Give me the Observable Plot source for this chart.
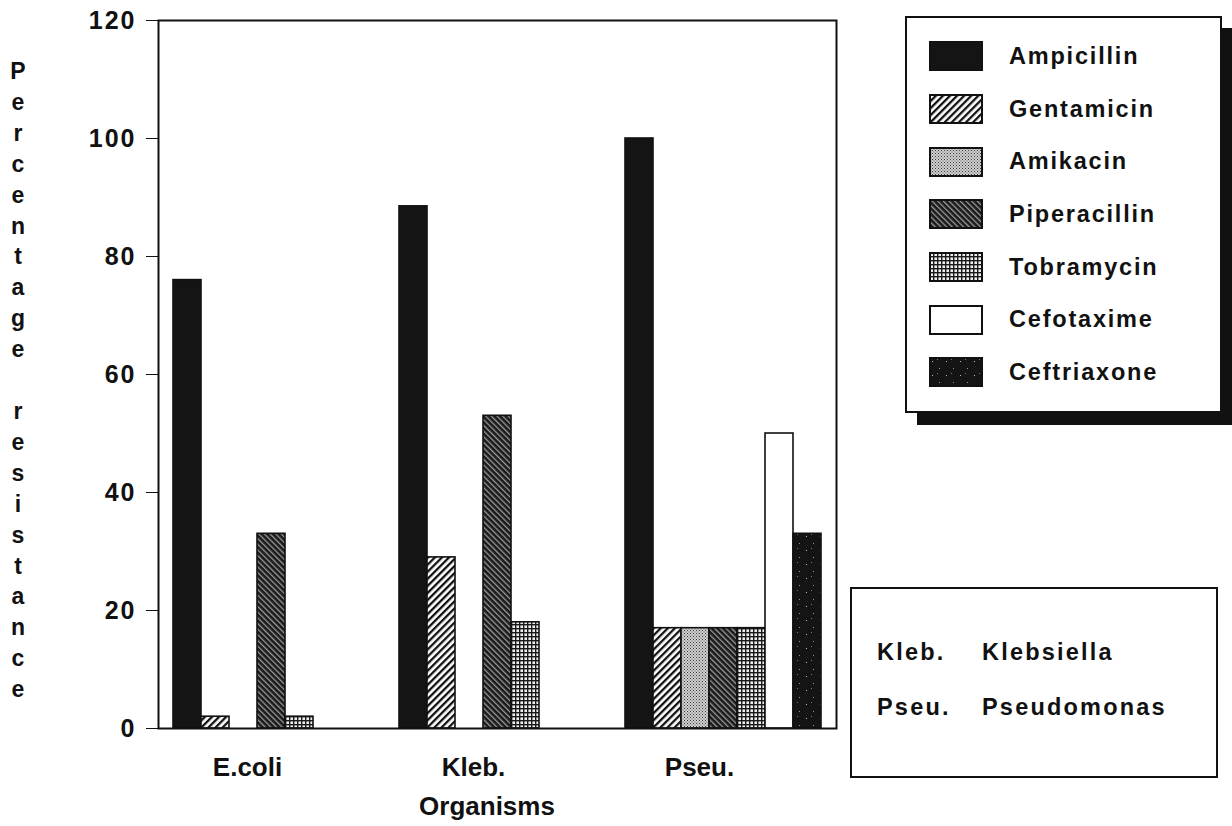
<!DOCTYPE html>
<html>
<head>
<meta charset="utf-8">
<script src="https://cdn.jsdelivr.net/npm/d3@7"></script>
<script src="https://cdn.jsdelivr.net/npm/@observablehq/plot@0.6"></script>
<style>
  html, body { margin: 0; padding: 0; background: #fff; }
  body { width: 1232px; height: 826px; position: relative; overflow: hidden;
         font-family: "Liberation Sans", Arial, sans-serif; color: #111; }
  #chart { position: absolute; left: 0; top: 0; }
  .ylabel { position: absolute; left: 4px; top: 56px; width: 28px; text-align: center;
            font-weight: bold; font-size: 23px; line-height: 30.9px; white-space: pre; }
  .xlabel { position: absolute; left: 337px; width: 300px; top: 791px; text-align: center;
            font-weight: bold; font-size: 26px; line-height: 30px; }
  .legend { position: absolute; left: 905px; top: 16px; width: 317px; height: 397px;
            box-sizing: border-box; border: 2px solid #111; background: #fff;
            box-shadow: 12px 12px 0 #111; padding-top: 12px; }
  .row { height: 52.7px; display: flex; align-items: center; padding-left: 22px; }
  .row svg { display: block; }
  .row span { margin-left: 26px; font-weight: bold; font-size: 23.5px; letter-spacing: 1.8px; }
  .abbr { position: absolute; left: 850px; top: 587px; width: 368px; height: 191px;
          box-sizing: border-box; border: 2px solid #111; background: #fff; }
  .abbr div { position: absolute; left: 25px; font-weight: bold; font-size: 23.5px; letter-spacing: 2.2px; }
  .abbr b { display: inline-block; width: 105px; }
  svg text { fill: #111; }
  g[aria-label="y-axis tick label"] text { letter-spacing: 2px; }
</style>
</head>
<body>
<svg width="0" height="0" style="position:absolute">
  <defs>
    <pattern id="pGent" patternUnits="userSpaceOnUse" width="5" height="5" patternTransform="rotate(45)">
      <rect width="5" height="5" fill="#fff"/><rect width="2.3" height="5" fill="#111"/>
    </pattern>
    <pattern id="pAmik" patternUnits="userSpaceOnUse" width="3" height="3">
      <rect width="3" height="3" fill="#cfcfcf"/><rect width="1" height="1" fill="#3a3a3a"/><rect x="1.5" y="1.5" width="1" height="1" fill="#5a5a5a"/>
    </pattern>
    <pattern id="pPip" patternUnits="userSpaceOnUse" width="4" height="4" patternTransform="rotate(-45)">
      <rect width="4" height="4" fill="#1a1a1a"/><rect width="1.3" height="4" fill="#9a9a9a"/>
    </pattern>
    <pattern id="pTob" patternUnits="userSpaceOnUse" width="4" height="4">
      <rect width="4" height="4" fill="#eeeeee"/><rect width="4" height="1.4" fill="#1a1a1a"/><rect width="1.4" height="4" fill="#1a1a1a"/>
    </pattern>
    <pattern id="pCeft" patternUnits="userSpaceOnUse" width="14" height="14">
      <rect width="14" height="14" fill="#141414"/><rect x="3" y="4" width="1" height="1" fill="#bbb"/><rect x="10" y="11" width="1" height="1" fill="#999"/><rect x="8" y="2" width="1" height="1" fill="#777"/>
    </pattern>
  </defs>
</svg>
<div id="chart"></div>
<div class="ylabel" id="ylabel"></div>
<div class="xlabel" id="xlabel"></div>
<div class="legend" id="legend"></div>
<div class="abbr" id="abbr"></div>
<script>
// ---- data ----
const organisms = ["E.coli", "Kleb.", "Pseu."];
const drugs = ["Ampicillin", "Gentamicin", "Amikacin", "Piperacillin", "Tobramycin", "Cefotaxime", "Ceftriaxone"];
const ecoliValues = [76, 2, 0, 33, 2, 0, 0];
const klebValues = [88.5, 29, 0, 53, 18, 0, 0];
const pseuValues = [100, 17, 17, 17, 17, 50, 33];
const yTicks = [0, 20, 40, 60, 80, 100, 120];
const abbreviations = ["Kleb.", "Pseu."];
const fullNames = ["Klebsiella", "Pseudomonas"];
const yTitleWords = ["Percentage", "resistance"];
const xTitle = "Organisms";

// ---- styles ----
const fills = ["#141414", "url(#pGent)", "url(#pAmik)", "url(#pPip)", "url(#pTob)", "#ffffff", "url(#pCeft)"];

const seriesByOrg = [ecoliValues, klebValues, pseuValues];
const data = organisms.flatMap((o, i) => drugs.map((d, j) => ({organism: o, drug: d, value: seriesByOrg[i][j]})))
  .filter(d => d.value > 0);

function build(superFrame) {
  const marks = [
    Plot.barY(data, {fx: "organism", x: "drug", y: "value", fill: "drug", stroke: "#111", strokeWidth: 1.6}),
    Plot.axisFx({anchor: "bottom", tickSize: 0, tickPadding: 29, dx: -24, label: null, fontSize: 26, fontWeight: "bold"})
  ];
  if (superFrame) marks.push(Plot.frame({facet: "super", stroke: "#111", strokeWidth: 2}));
  else marks.push(Plot.frame({stroke: "#111", strokeWidth: 2}));
  return Plot.plot({
    width: 1232, height: 826,
    marginLeft: 157, marginRight: 395, marginTop: 20, marginBottom: 98,
    style: {fontFamily: "'Liberation Sans', Arial, sans-serif", fontSize: "25px", fontWeight: "bold", color: "#111", background: "transparent"},
    fx: {domain: organisms, padding: 0, axis: null},
    x: {domain: drugs, paddingInner: 0, paddingOuter: 0.46, axis: null},
    y: {domain: [0, 120], ticks: yTicks, tickSize: 12, tickPadding: 10, label: null, tickFormat: d3.format("d")},
    color: {type: "ordinal", domain: drugs, range: fills},
    marks
  });
}
let chart;
try { chart = build(true); } catch (e) { chart = build(false); }
document.getElementById("chart").appendChild(chart);

// y title: stacked letters, one blank line between words
document.getElementById("ylabel").textContent = yTitleWords.map(w => w.split("").join("\n")).join("\n\n");
document.getElementById("xlabel").textContent = xTitle;

// legend
const legend = document.getElementById("legend");
drugs.forEach((d, j) => {
  const row = document.createElement("div");
  row.className = "row";
  row.innerHTML = `<svg width="54" height="30"><rect x="1" y="1" width="52" height="28" fill="${fills[j]}" stroke="#111" stroke-width="2"/></svg><span>${d}</span>`;
  legend.appendChild(row);
});

// abbreviation box
const abbr = document.getElementById("abbr");
abbreviations.forEach((a, i) => {
  const line = document.createElement("div");
  line.style.top = (i === 0 ? 50 : 105) + "px";
  line.innerHTML = `<b>${a}</b>${fullNames[i]}`;
  abbr.appendChild(line);
});
</script>
</body>
</html>
